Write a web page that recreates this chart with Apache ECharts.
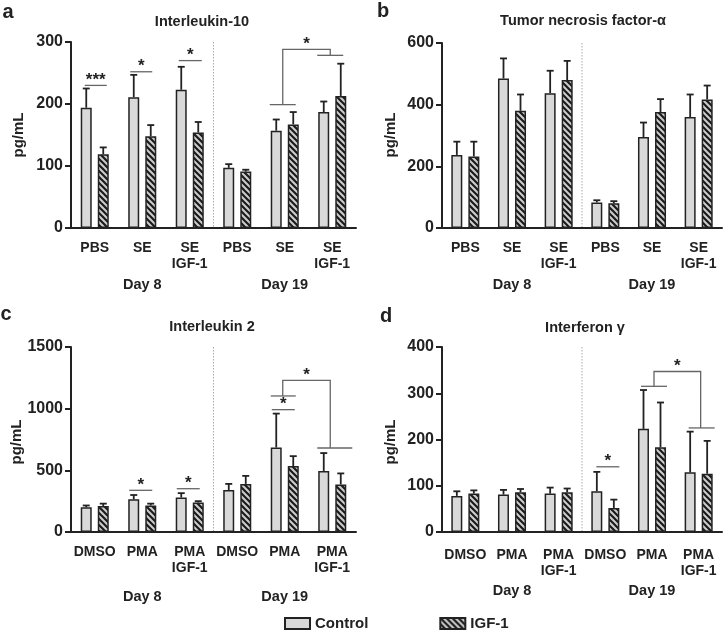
<!DOCTYPE html>
<html lang="en">
<head>
<meta charset="UTF-8">
<title>Cytokines</title>
<script src="https://cdn.jsdelivr.net/npm/echarts@6/dist/echarts.min.js"></script>
<style>
  html, body { margin: 0; padding: 0; background: #fff; }
  #main { width: 724px; height: 634px; }
</style>
</head>
<body>
<div id="main"></div>
<script>
// categories
var catsSE = ['PBS', 'SE', 'SE\nIGF-1', 'PBS', 'SE', 'SE\nIGF-1'];
var catsPMA = ['DMSO', 'PMA', 'PMA\nIGF-1', 'DMSO', 'PMA', 'PMA\nIGF-1'];
var days = ['Day 8', 'Day 19'];

// a: Interleukin-10 (mean, mean + error)
var il10Control = [194, 211, 223, 97, 157, 187];
var il10ControlErr = [225, 247, 260, 103, 175, 204];
var il10Igf = [119, 148, 154, 91, 167, 213];
var il10IgfErr = [130, 166, 171, 94, 187, 265];

// b: Tumor necrosis factor-alpha
var tnfControl = [237, 485, 437, 83, 295, 360];
var tnfControlErr = [280, 550, 510, 90, 342, 433];
var tnfIgf = [232, 380, 480, 80, 376, 417];
var tnfIgfErr = [280, 433, 542, 87, 418, 462];

// c: Interleukin 2
var il2Control = [200, 265, 280, 340, 685, 495];
var il2ControlErr = [215, 300, 315, 390, 960, 640];
var il2Igf = [210, 215, 240, 390, 535, 385];
var il2IgfErr = [230, 230, 250, 455, 615, 475];

// d: Interferon gamma
var ifnControl = [78, 81, 83, 88, 223, 129];
var ifnControlErr = [88, 91, 96, 130, 307, 217];
var ifnIgf = [83, 86, 86, 52, 183, 126];
var ifnIgfErr = [90, 93, 94, 70, 280, 197];

// y axis ticks
var yMax = [300, 600, 1500, 400];
var yStep = [100, 200, 500, 100];

// significance marks (category index, value level)
var sigA = [
  { kind: 'line', cat: 0, y: 230, span: [-10, 12], mark: '***' },
  { kind: 'line', cat: 1, y: 252, span: [-12, 10], mark: '*' },
  { kind: 'line', cat: 2, y: 270, span: [-11, 12], mark: '*' },
  { kind: 'bracket', cats: [4, 5], lows: [199, 278.5], top: 288, spans: [[-15, 11], [-15, 11]], stems: [-2, -2], mark: '*' }
];
var sigB = [];
var sigC = [
  { kind: 'line', cat: 1, y: 338, span: [-13, 10], mark: '*' },
  { kind: 'line', cat: 2, y: 351, span: [-13, 10], mark: '*' },
  { kind: 'line', cat: 4, y: 992, span: [-13, 10], mark: '*' },
  { kind: 'bracket', cats: [4, 5], lows: [1103, 681], top: 1230, spans: [[-14, 11], [-15, 20]], stems: [-2, -2], mark: '*' }
];
var sigD = [
  { kind: 'line', cat: 3, y: 141, span: [-9, 14], mark: '*' },
  { kind: 'bracket', cats: [4, 5], lows: [315, 225], top: 347, spans: [[-11, 15], [-10, 16]], stems: [2, 2], mark: '*' }
];

var FONT = '"Liberation Sans", Arial, Helvetica, sans-serif';
var INK = '#222';
var BAR_OFF = 8.5;

function hatch() {
  var c = document.createElement('canvas');
  c.width = 6; c.height = 6;
  var g = c.getContext('2d');
  g.fillStyle = '#cdcdcd';
  g.fillRect(0, 0, 6, 6);
  g.strokeStyle = '#1b1b1b';
  g.lineWidth = 2.2;
  g.beginPath();
  [-6, 0, 6].forEach(function (k) {
    g.moveTo(k - 1, -1);
    g.lineTo(k + 7, 7);
  });
  g.stroke();
  return c;
}
var hatchImg = hatch();

var panels = [
  { cats: catsSE, ctrl: il10Control, ctrlErr: il10ControlErr, igf: il10Igf, igfErr: il10IgfErr, sig: sigA,
    grid: { left: 71, top: 42, width: 285, height: 186 }, labelMargin: 12, dayMargin: 49 },
  { cats: catsSE, ctrl: tnfControl, ctrlErr: tnfControlErr, igf: tnfIgf, igfErr: tnfIgfErr, sig: sigB,
    grid: { left: 442, top: 43, width: 280, height: 185 }, labelMargin: 12, dayMargin: 49 },
  { cats: catsPMA, ctrl: il2Control, ctrlErr: il2ControlErr, igf: il2Igf, igfErr: il2IgfErr, sig: sigC,
    grid: { left: 71, top: 347, width: 285, height: 185 }, labelMargin: 12, dayMargin: 57 },
  { cats: catsPMA, ctrl: ifnControl, ctrlErr: ifnControlErr, igf: ifnIgf, igfErr: ifnIgfErr, sig: sigD,
    grid: { left: 442, top: 347, width: 280, height: 185 }, labelMargin: 15, dayMargin: 51 }
];

function errRender(off) {
  return function (params, api) {
    var b = api.coord([api.value(0), api.value(1)]);
    var t = api.coord([api.value(0), api.value(2)]);
    var cx = b[0] + off;
    var st = { stroke: INK, lineWidth: 1.8 };
    return {
      type: 'group',
      children: [
        { type: 'line', shape: { x1: cx, y1: b[1], x2: cx, y2: t[1] }, style: st },
        { type: 'line', shape: { x1: cx - 3.5, y1: t[1], x2: cx + 3.5, y2: t[1] }, style: st }
      ]
    };
  };
}

function starText(x, y, mark) {
  return {
    type: 'text',
    style: { text: mark, x: x, y: y + 1, font: 'bold 17px ' + FONT, fill: INK,
      align: 'center', verticalAlign: 'middle', textAlign: 'center', textVerticalAlign: 'middle' }
  };
}

function annotRender(sig, max) {
  return function (params, api) {
    var band = api.size([1, 0])[0];
    var kids = [];
    var lst = { stroke: '#666', lineWidth: 1.3 };
    // dotted separator between Day 8 and Day 19
    var s0 = api.coord([2, 0]);
    var sTop = api.coord([2, max]);
    var sx = s0[0] + band / 2;
    kids.push({ type: 'line', shape: { x1: sx, y1: sTop[1], x2: sx, y2: s0[1] - 1 },
      style: { stroke: '#aaa', lineWidth: 1, lineDash: [1.5, 1.5] } });
    sig.forEach(function (m) {
      if (m.kind === 'line') {
        var p = api.coord([m.cat, m.y]);
        var x1 = p[0] + m.span[0], x2 = p[0] + m.span[1];
        kids.push({ type: 'line', shape: { x1: x1, y1: p[1], x2: x2, y2: p[1] }, style: lst });
        kids.push(starText((x1 + x2) / 2, p[1] - 6, m.mark));
      } else {
        var pts = m.cats.map(function (c, i) { return api.coord([c, m.lows[i]]); });
        var topY = api.coord([m.cats[0], m.top])[1];
        pts.forEach(function (p, i) {
          kids.push({ type: 'line', shape: { x1: p[0] + m.spans[i][0], y1: p[1], x2: p[0] + m.spans[i][1], y2: p[1] }, style: lst });
        });
        var xa = pts[0][0] + m.stems[0], xb = pts[1][0] + m.stems[1];
        kids.push({ type: 'polyline', shape: { points: [[xa, pts[0][1]], [xa, topY], [xb, topY], [xb, pts[1][1]]] },
          style: { stroke: '#666', lineWidth: 1.3, fill: null } });
        kids.push(starText((xa + xb) / 2, topY - 6, m.mark));
      }
    });
    return { type: 'group', children: kids };
  };
}

var grids = [], xAxes = [], yAxes = [], series = [];
panels.forEach(function (p, k) {
  grids.push(p.grid);
  xAxes.push({
    type: 'category', gridIndex: k, data: p.cats, boundaryGap: true,
    axisLine: { lineStyle: { color: INK, width: 2 } },
    axisTick: { alignWithLabel: true, length: 6, lineStyle: { color: INK, width: 2 } },
    axisLabel: { color: INK, fontFamily: FONT, fontWeight: 'bold', fontSize: 14, lineHeight: 16, margin: p.labelMargin, interval: 0 }
  });
  xAxes.push({
    type: 'category', gridIndex: k, data: days, position: 'bottom',
    axisLine: { show: false }, axisTick: { show: false },
    axisLabel: { color: INK, fontFamily: FONT, fontWeight: 'bold', fontSize: 14.5, margin: p.dayMargin }
  });
  yAxes.push({
    type: 'value', gridIndex: k, min: 0, max: yMax[k], interval: yStep[k],
    splitLine: { show: false },
    axisLine: { show: true, lineStyle: { color: INK, width: 2 } },
    axisTick: { show: true, length: 6, lineStyle: { color: INK, width: 2 } },
    axisLabel: { color: INK, fontFamily: FONT, fontWeight: 'bold', fontSize: 16, margin: 8,
      formatter: function (v) { return String(v); } }
  });
  series.push({
    name: 'Control', type: 'bar', xAxisIndex: 2 * k, yAxisIndex: k, data: p.ctrl,
    barWidth: 11, barGap: '55%',
    itemStyle: { color: '#d9d9d9', borderColor: INK, borderWidth: 1.5 }
  });
  series.push({
    name: 'IGF-1', type: 'bar', xAxisIndex: 2 * k, yAxisIndex: k, data: p.igf,
    barWidth: 11, barGap: '55%',
    itemStyle: { color: { image: hatchImg, repeat: 'repeat' }, borderColor: INK, borderWidth: 1.5 }
  });
  series.push({
    type: 'custom', xAxisIndex: 2 * k, yAxisIndex: k, z: 5,
    renderItem: errRender(-BAR_OFF),
    data: p.ctrl.map(function (v, i) { return [i, v, p.ctrlErr[i]]; })
  });
  series.push({
    type: 'custom', xAxisIndex: 2 * k, yAxisIndex: k, z: 5,
    renderItem: errRender(BAR_OFF),
    data: p.igf.map(function (v, i) { return [i, v, p.igfErr[i]]; })
  });
  series.push({
    type: 'custom', xAxisIndex: 2 * k, yAxisIndex: k, z: 6, silent: true,
    renderItem: annotRender(p.sig, yMax[k]),
    data: [[0, 0]]
  });
});

function label(text, x, y, size, rot) {
  return {
    type: 'text', x: x, y: y, rotation: rot || 0,
    style: { text: text, font: 'bold ' + size + 'px ' + FONT, fill: INK,
      align: 'center', verticalAlign: 'middle', textAlign: 'center', textVerticalAlign: 'middle' }
  };
}

var graphics = [
  label('a', 8, 12, 20), label('b', 383, 11, 20), label('c', 6, 314, 20), label('d', 386, 316, 20),
  label('Interleukin-10', 202, 22, 14.5), label('Tumor necrosis factor-\u03b1', 583, 21, 14.5),
  label('Interleukin 2', 212, 327, 14.5), label('Interferon \u03b3', 585, 328, 14.5),
  label('pg/mL', 19, 135, 15, Math.PI / 2), label('pg/mL', 391, 135, 15, Math.PI / 2),
  label('pg/mL', 17, 442, 15, Math.PI / 2), label('pg/mL', 391, 442, 15, Math.PI / 2)
];

var myChart = echarts.init(document.getElementById('main'));
var option = {
  backgroundColor: '#fff',
  animation: false,
  grid: grids,
  xAxis: xAxes,
  yAxis: yAxes,
  legend: {
    data: ['Control', 'IGF-1'], left: 284, top: 616, icon: 'rect', padding: 0,
    itemWidth: 25, itemHeight: 11, itemGap: 71,
    textStyle: { color: INK, fontFamily: FONT, fontWeight: 'bold', fontSize: 15 }
  },
  graphic: graphics,
  series: series
};
myChart.setOption(option);
</script>
</body>
</html>
